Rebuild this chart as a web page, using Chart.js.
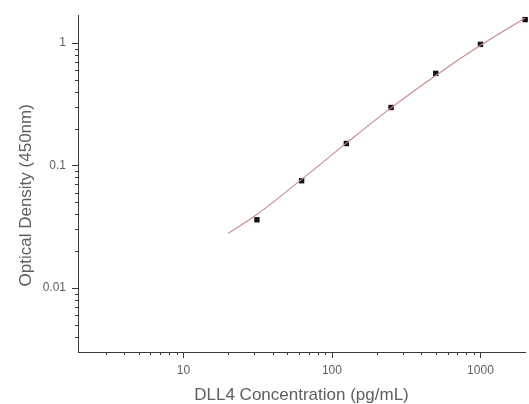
<!DOCTYPE html>
<html>
<head>
<meta charset="utf-8">
<script src="https://cdn.jsdelivr.net/npm/chart.js@4/dist/chart.umd.min.js"></script>
<style>
  html, body { margin: 0; padding: 0; background: #fff; }
  #wrap { width: 529px; height: 404px; }
</style>
</head>
<body>
<div id="wrap"><canvas id="c"></canvas></div>
<script>
// standard points (pg/mL vs OD 450nm)
const concentrations = [31.25, 62.5, 125, 250, 500, 1000, 2000]
const densities = [0.036, 0.075, 0.151, 0.297, 0.564, 0.973, 1.55]

// fitted curve
const fitConc = [20, 31.25, 62.5, 125, 250, 500, 1000, 2000]
const fitOD = [0.0279, 0.0398, 0.0769, 0.152, 0.295, 0.543, 0.955, 1.6]

const xMajor = [10, 100, 1000]
const xMinor = [3, 4, 5, 6, 7, 8, 9, 20, 30, 40, 50, 60, 70, 80, 90, 200, 300, 400, 500, 600, 700, 800, 900]
const xLabels = ['10', '100', '1000']
const yMajor = [0.01, 0.1, 1]
const yMinor = [0.004, 0.005, 0.006, 0.007, 0.008, 0.009, 0.02, 0.03, 0.04, 0.05, 0.06, 0.07, 0.08, 0.09, 0.2, 0.3, 0.4, 0.5, 0.6, 0.7, 0.8, 0.9]
const yLabels = ['0.01', '0.1', '1']

const axisColor = '#3a3a3a'
const textColor = '#5e5e5e'

// draws outward tick marks, long for decades, short for the rest
const tickMarks = {
  id: 'tickMarks',
  afterDraw(chart) {
    const ctx = chart.ctx
    const { x, y } = chart.scales
    ctx.save()
    ctx.strokeStyle = axisColor
    ctx.lineWidth = 1
    ctx.beginPath()
    x.ticks.forEach(t => {
      const px = Math.round(x.getPixelForValue(t.value)) + 0.5
      const len = xMajor.includes(t.value) ? 6 : 3
      ctx.moveTo(px, x.top)
      ctx.lineTo(px, x.top + len)
    })
    y.ticks.forEach(t => {
      const py = Math.round(y.getPixelForValue(t.value)) + 0.5
      const len = yMajor.includes(t.value) ? 6 : 3
      ctx.moveTo(y.right, py)
      ctx.lineTo(y.right - len, py)
    })
    ctx.stroke()
    ctx.restore()
  }
}

new Chart(document.getElementById('c'), {
  type: 'scatter',
  data: {
    datasets: [
      {
        type: 'line',
        data: fitConc.map((c, i) => ({ x: c, y: fitOD[i] })),
        borderColor: '#c98a8e',
        borderWidth: 1.2,
        pointRadius: 0,
        cubicInterpolationMode: 'monotone',
        fill: false,
      },
      {
        data: concentrations.map((c, i) => ({ x: c, y: densities[i] })),
        pointStyle: 'rect',
        pointRadius: 3.8,
        backgroundColor: '#111',
        borderColor: '#111',
        borderWidth: 0,
        clip: false,
      },
    ],
  },
  options: {
    responsive: true,
    maintainAspectRatio: false,
    animation: false,
    layout: { padding: { top: 15, right: 0, bottom: 0, left: 0 } },
    plugins: { legend: { display: false }, tooltip: { enabled: false } },
    scales: {
      x: {
        type: 'logarithmic',
        min: 1.95,
        max: 1995,
        afterBuildTicks: s => {
          s.ticks = xMajor.concat(xMinor).sort((a, b) => a - b).map(v => ({ value: v }))
        },
        afterFit: s => { s.height = 52 },
        grid: { display: false },
        border: { display: true, color: axisColor, width: 1 },
        ticks: {
          autoSkip: false,
          maxRotation: 0,
          padding: 3,
          color: textColor,
          font: { family: 'Liberation Sans', size: 12 },
          callback: v => { const i = xMajor.indexOf(v); return i >= 0 ? xLabels[i] : '' },
        },
        title: {
          display: true,
          text: 'DLL4 Concentration (pg/mL)',
          color: textColor,
          font: { family: 'Liberation Sans', size: 17, lineHeight: 1 },
          padding: 0,
        },
      },
      y: {
        type: 'logarithmic',
        min: 0.003,
        max: 1.69,
        afterBuildTicks: s => {
          s.ticks = yMajor.concat(yMinor).sort((a, b) => a - b).map(v => ({ value: v }))
        },
        afterFit: s => { s.width = 78 },
        grid: { display: false },
        border: { display: true, color: axisColor, width: 1 },
        ticks: {
          autoSkip: false,
          padding: 4,
          color: textColor,
          font: { family: 'Liberation Sans', size: 12 },
          callback: v => { const i = yMajor.indexOf(v); return i >= 0 ? yLabels[i] : '' },
        },
        title: {
          display: true,
          // trailing spaces nudge the rotated title a little lower, as in the original
          text: 'Optical Density (450nm)     ',
          color: textColor,
          font: { family: 'Liberation Sans', size: 17, lineHeight: 1.2 },
          padding: { top: 16, bottom: 0 },
        },
      },
    },
  },
  plugins: [tickMarks],
})
</script>
</body>
</html>
